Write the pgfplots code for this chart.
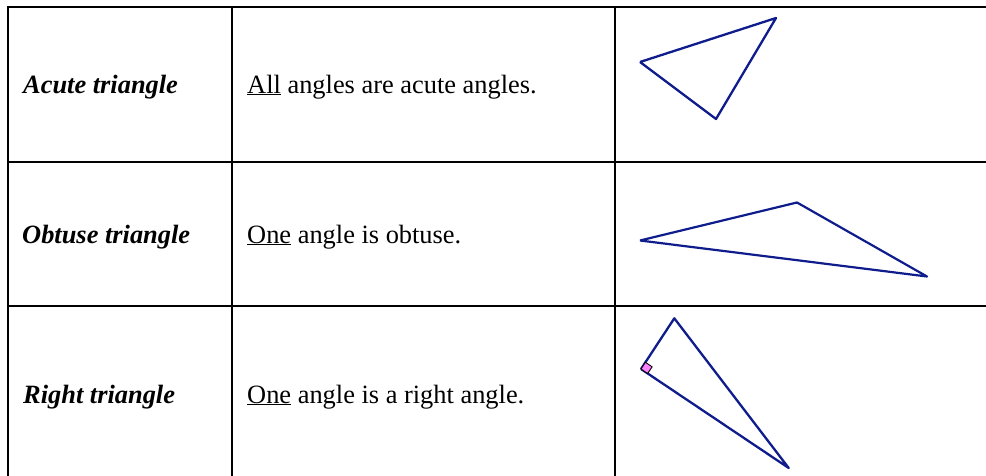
\documentclass[border=0pt]{standalone}
\usepackage{pgfplots}
\pgfplotsset{compat=1.18}
\usepackage{fontspec}
\setmainfont{Liberation Serif}
\definecolor{triblue}{RGB}{14,28,140}
\definecolor{rapink}{RGB}{255,128,255}
\newcommand\ul[1]{\underline{#1}}
\begin{document}
\begin{tikzpicture}
\begin{axis}[
  scale only axis, width=986bp, height=476bp,
  xmin=0, xmax=986, ymin=0, ymax=476, y dir=reverse,
  axis line style={draw=none}, ticks=none,
  clip=true,
]
% table rules
\addplot[black, line width=2bp] coordinates {(8,480) (8,7) (990,7)};
\addplot[black, line width=2bp] coordinates {(8,162) (990,162)};
\addplot[black, line width=2bp] coordinates {(8,306) (990,306)};
\addplot[black, line width=2bp] coordinates {(232,7) (232,480)};
\addplot[black, line width=2bp] coordinates {(615,7) (615,480)};
% acute triangle
\addplot[triblue, line width=2.3bp, line join=round] coordinates {(640,62) (776,18) (716,119) (640,62)};
% obtuse triangle
\addplot[triblue, line width=2.2bp, line join=round] coordinates {(640,240.5) (797,202.5) (927,276.5) (640,240.5)};
% right triangle
\addplot[triblue, line width=2.3bp, line join=round] coordinates {(641,369) (674.3,318.3) (788.7,468) (641,369)};
\addplot[fill=rapink, draw=black, line width=0.9bp] coordinates {(641,369) (645.4,362.3) (652.1,366.8) (647.6,373.5)} -- cycle;
% texts
\begin{scope}[every node/.style={inner sep=0pt, anchor=base west, font=\fontsize{26.5}{30}\selectfont}]
\node at (axis cs:23,93) {\textbf{\textit{Acute triangle}}};
\node at (axis cs:22,243) {\textbf{\textit{Obtuse triangle}}};
\node at (axis cs:23,403) {\textbf{\textit{Right triangle}}};
\node at (axis cs:247,93) {\ul{All} angles are acute angles.};
\node at (axis cs:247,243) {\ul{One} angle is obtuse.};
\node at (axis cs:247,403) {\ul{One} angle is a right angle.};
\end{scope}
\end{axis}
\end{tikzpicture}
\end{document}
